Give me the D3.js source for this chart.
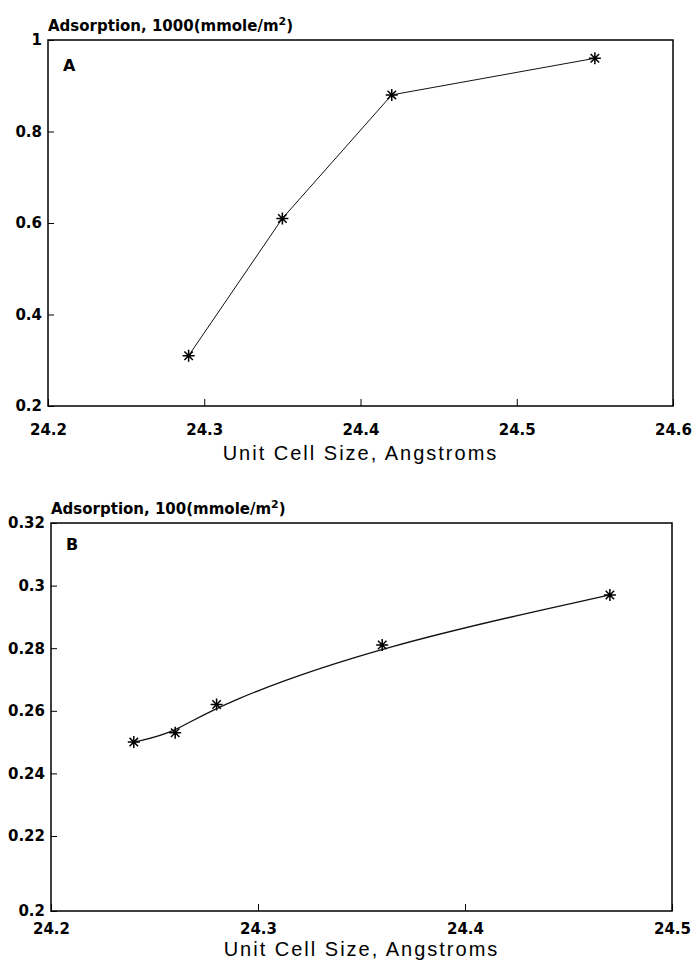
<!DOCTYPE html>
<html>
<head>
<meta charset="utf-8">
<script src="https://cdn.jsdelivr.net/npm/d3@7"></script>
<style>
body { margin: 0; background: #fff; }
text { fill: #000; }
.tick text { font: bold 15px "DejaVu Sans"; }
.title { font: bold 15px "DejaVu Sans"; }
.letter { font: bold 16px "DejaVu Sans"; }
.xlabel { font: 20px "Liberation Sans"; letter-spacing: 2px; }
</style>
</head>
<body>
<div id="chart"></div>
<script>
// panel A
var cellA = [24.29, 24.35, 24.42, 24.55],
    adsA = [0.31, 0.61, 0.88, 0.96],
    xTicksA = [24.2, 24.3, 24.4, 24.5, 24.6],
    yTicksA = [0.2, 0.4, 0.6, 0.8, 1];

// panel B
var cellB = [24.24, 24.26, 24.28, 24.36, 24.47],
    adsB = [0.250, 0.253, 0.262, 0.281, 0.297],
    xTicksB = [24.2, 24.3, 24.4, 24.5],
    yTicksB = [0.2, 0.22, 0.24, 0.26, 0.28, 0.3, 0.32];

var xTitle = "Unit Cell Size, Angstroms";

var width = 693,
    height = 961;

var svg = d3.select("#chart").append("svg")
    .attr("width", width)
    .attr("height", height);

// asterisk marker
var star = {
    draw: function (ctx, size) {
        var r = Math.sqrt(size) / 2,
            d = r * 0.7071;
        ctx.moveTo(0, -r); ctx.lineTo(0, r);
        ctx.moveTo(-r, 0); ctx.lineTo(r, 0);
        ctx.moveTo(-d, -d); ctx.lineTo(d, d);
        ctx.moveTo(-d, d); ctx.lineTo(d, -d);
    }
};

function panel(o) {
    var x = d3.scaleLinear()
        .domain(d3.extent(o.xTicks))
        .range([o.left, o.right]);
    var y = o.y;
    var fmt = d3.format("~g");
    var g = svg.append("g");

    var xa = g.append("g")
        .attr("transform", "translate(0," + o.bottom + ")")
        .call(d3.axisBottom(x).tickValues(o.xTicks).tickSize(-7).tickPadding(o.xPad).tickFormat(fmt));
    xa.select(".domain").remove();

    var ya = g.append("g")
        .attr("transform", "translate(" + o.left + ",0)")
        .call(d3.axisLeft(y).tickValues(o.yTicks).tickSize(-6).tickPadding(6).tickFormat(fmt));
    ya.select(".domain").remove();

    g.append("rect")
        .attr("x", o.left)
        .attr("y", o.top)
        .attr("width", o.right - o.left)
        .attr("height", o.bottom - o.top)
        .attr("fill", "none")
        .attr("stroke", "#000")
        .attr("stroke-width", 1.5);

    var pts = o.xs.map(function (v, i) { return [v, o.ys[i]]; });

    g.append("path")
        .datum(pts)
        .attr("fill", "none")
        .attr("stroke", "#111")
        .attr("stroke-width", o.lineW)
        .attr("d", d3.line()
            .x(function (d) { return x(d[0]); })
            .y(function (d) { return y(d[1]); })
            .curve(o.curve));

    g.selectAll(".pt")
        .data(pts)
        .enter().append("path")
        .attr("class", "pt")
        .attr("transform", function (d) { return "translate(" + x(d[0]) + "," + y(d[1]) + ")"; })
        .attr("d", d3.symbol().type(star).size(144))
        .attr("stroke", "#000")
        .attr("stroke-width", 1.5)
        .attr("fill", "none");

    var t = g.append("text")
        .attr("class", "title")
        .attr("x", o.left)
        .attr("y", o.top - 9);
    t.append("tspan").text("Adsorption, " + o.factor + "(mmole/m");
    t.append("tspan").attr("dy", -6).style("font-size", "11px").text("2");
    t.append("tspan").attr("dy", 6).text(")");

    g.append("text")
        .attr("class", "letter")
        .attr("x", o.left + 15)
        .attr("y", o.top + o.letterY)
        .text(o.letter);

    g.append("text")
        .attr("class", "xlabel")
        .attr("text-anchor", "middle")
        .attr("x", (o.left + o.right) / 2)
        .attr("y", o.bottom + o.xlabY)
        .text(xTitle);
}

panel({
    letter: "A", factor: "1000",
    xs: cellA, ys: adsA, xTicks: xTicksA, yTicks: yTicksA,
    left: 48, right: 673, top: 40, bottom: 406,
    y: d3.scaleLinear().domain(d3.extent(yTicksA)).range([406, 40]),
    xPad: 18, xlabY: 54, letterY: 31, lineW: 1,
    curve: d3.curveLinear
});

// the printed B axis has a longer gap between 0.2 and 0.22
panel({
    letter: "B", factor: "100",
    xs: cellB, ys: adsB, xTicks: xTicksB, yTicks: yTicksB,
    left: 51, right: 672, top: 523, bottom: 911,
    y: d3.scaleLinear().domain([0.2, 0.22, 0.32]).range([911, 836, 523]),
    xPad: 12, xlabY: 45, letterY: 27, lineW: 1.3,
    curve: d3.curveBasis
});
</script>
</body>
</html>
